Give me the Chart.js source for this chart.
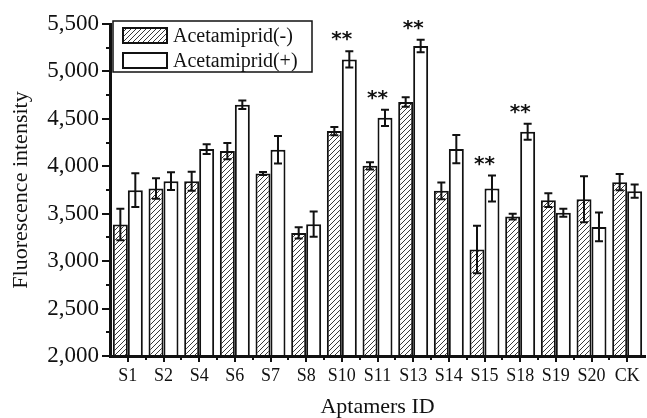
<!DOCTYPE html>
<html>
<head>
<meta charset="utf-8">
<script src="https://cdn.jsdelivr.net/npm/chart.js@4.4.0/dist/chart.umd.min.js"></script>
<style>
  body { margin: 0; background: #fff; }
  #chart { display: block; }
</style>
</head>
<body>
<canvas id="chart" width="647" height="418"></canvas>
<script>
// Dados
const categorias = ['S1', 'S2', 'S4', 'S6', 'S7', 'S8', 'S10', 'S11', 'S13', 'S14', 'S15', 'S18', 'S19', 'S20', 'CK'];
const semAcetamiprid = [3386, 3766, 3843, 4160, 3924, 3298, 4371, 4005, 4677, 3741, 3123, 3470, 3643, 3653, 3833];
const semAcetamipridErro = [167, 107, 100, 85, 15, 58, 44, 38, 50, 88, 250, 30, 72, 243, 85];
const comAcetamiprid = [3748, 3843, 4181, 4649, 4174, 3390, 5127, 4511, 5268, 4181, 3766, 4364, 3511, 3361, 3738];
const comAcetamipridErro = [178, 93, 52, 45, 145, 134, 85, 86, 65, 148, 136, 85, 42, 151, 69];
const significancia = ['', '', '', '', '', '', '**', '**', '**', '', '**', '**', '', '', ''];
const rotulosSeries = ['Acetamiprid(-)', 'Acetamiprid(+)'];

const fonteSerif = '"Liberation Serif", "Times New Roman", serif';

// Padrão hachurado para as barras (-)
function criarHachura() {
    const c = document.createElement('canvas');
    c.width = 5;
    c.height = 5;
    const ctx = c.getContext('2d');
    ctx.fillStyle = '#fff';
    ctx.fillRect(0, 0, 5, 5);
    ctx.strokeStyle = '#222';
    ctx.lineWidth = 0.9;
    ctx.beginPath();
    ctx.moveTo(-1, 6);
    ctx.lineTo(6, -1);
    ctx.moveTo(-1, 1);
    ctx.lineTo(1, -1);
    ctx.moveTo(4, 6);
    ctx.lineTo(6, 4);
    ctx.stroke();
    return ctx.createPattern(c, 'repeat');
}
const hachura = criarHachura();

// Barras de erro, marcas menores, asteriscos e legenda
const pluginExtras = {
    id: 'extras',
    afterDatasetsDraw(chart) {
        const ctx = chart.ctx;
        const yScale = chart.scales.y;
        const erros = [semAcetamipridErro, comAcetamipridErro];
        ctx.save();
        ctx.strokeStyle = '#111';
        ctx.lineWidth = 2;
        chart.data.datasets.forEach((ds, i) => {
            const meta = chart.getDatasetMeta(i);
            meta.data.forEach((bar, j) => {
                const v = ds.data[j];
                const e = erros[i][j];
                const yTop = yScale.getPixelForValue(v + e);
                const yBot = yScale.getPixelForValue(v - e);
                ctx.beginPath();
                ctx.moveTo(bar.x, yTop);
                ctx.lineTo(bar.x, yBot);
                ctx.moveTo(bar.x - 4, yTop);
                ctx.lineTo(bar.x + 4, yTop);
                ctx.moveTo(bar.x - 4, yBot);
                ctx.lineTo(bar.x + 4, yBot);
                ctx.stroke();
            });
        });
        ctx.restore();
    },
    afterDraw(chart) {
        const ctx = chart.ctx;
        const area = chart.chartArea;
        const xScale = chart.scales.x;
        const yScale = chart.scales.y;
        ctx.save();
        ctx.strokeStyle = '#111';
        ctx.lineWidth = 2;

        // marcas menores do eixo y
        ctx.beginPath();
        for (let v = 2250; v < 5500; v += 500) {
            const y = Math.round(yScale.getPixelForValue(v));
            ctx.moveTo(area.left - 4, y);
            ctx.lineTo(area.left, y);
        }
        // marcas menores do eixo x (entre categorias)
        const passo = (area.right - area.left) / categorias.length;
        for (let i = 1; i < categorias.length; i++) {
            const x = Math.round(area.left + i * passo);
            ctx.moveTo(x, area.bottom);
            ctx.lineTo(x, area.bottom + 4);
        }
        ctx.stroke();

        // asteriscos de significância
        ctx.fillStyle = '#111';
        ctx.font = 'bold 20px "DejaVu Sans", sans-serif';
        ctx.textAlign = 'center';
        ctx.textBaseline = 'alphabetic';
        significancia.forEach((s, j) => {
            if (!s) return;
            const topo = yScale.getPixelForValue(comAcetamiprid[j] + comAcetamipridErro[j]);
            const yc = topo - 17;
            ctx.fillText(s, xScale.getPixelForValue(j), yc + 11);
        });

        // legenda
        const lx = 113, ly = 21, lw = 199, lh = 51;
        ctx.lineWidth = 1.5;
        ctx.fillStyle = '#fff';
        ctx.fillRect(lx, ly, lw, lh);
        ctx.strokeRect(lx, ly, lw, lh);
        const fundos = [hachura, '#fff'];
        ctx.font = '20px ' + fonteSerif;
        ctx.textAlign = 'left';
        ctx.textBaseline = 'middle';
        rotulosSeries.forEach((rotulo, i) => {
            const sy = 28 + i * 25;
            ctx.fillStyle = fundos[i];
            ctx.fillRect(123, sy, 44, 15);
            ctx.lineWidth = 2;
            ctx.strokeRect(123, sy, 44, 15);
            ctx.fillStyle = '#111';
            ctx.fillText(rotulo, 173, sy + 9);
        });
        ctx.restore();
    }
};

new Chart(document.getElementById('chart'), {
    type: 'bar',
    data: {
        labels: categorias,
        datasets: [
            {
                label: rotulosSeries[0],
                data: semAcetamiprid,
                base: 2000,
                backgroundColor: hachura,
                borderColor: '#111',
                borderWidth: 2,
                barPercentage: 1,
                categoryPercentage: 0.84
            },
            {
                label: rotulosSeries[1],
                data: comAcetamiprid,
                base: 2000,
                backgroundColor: '#fff',
                borderColor: '#111',
                borderWidth: 2,
                barPercentage: 1,
                categoryPercentage: 0.84
            }
        ]
    },
    options: {
        responsive: false,
        devicePixelRatio: 1,
        animation: false,
        layout: {
            padding: { top: 24, right: 2, left: 0, bottom: 0 }
        },
        plugins: {
            legend: { display: false },
            tooltip: { enabled: false }
        },
        scales: {
            x: {
                afterFit: function(scale) { scale.height = 62; },
                grid: {
                    display: true,
                    offset: false,
                    drawOnChartArea: false,
                    drawTicks: true,
                    tickLength: 6,
                    lineWidth: 2,
                    color: '#111'
                },
                border: { display: true, color: '#111', width: 3 },
                ticks: {
                    color: '#111',
                    padding: 3,
                    maxRotation: 0,
                    autoSkip: false,
                    font: { family: fonteSerif, size: 18 }
                },
                title: {
                    display: true,
                    text: 'Aptamers ID',
                    color: '#111',
                    padding: 0,
                    font: { family: fonteSerif, size: 22, lineHeight: 1 }
                }
            },
            y: {
                min: 2000,
                max: 5500,
                afterFit: function(scale) { scale.width = 110; },
                grid: {
                    display: true,
                    drawOnChartArea: false,
                    drawTicks: true,
                    tickLength: 8,
                    lineWidth: 2,
                    color: '#111'
                },
                border: { display: true, color: '#111', width: 3 },
                ticks: {
                    stepSize: 500,
                    color: '#111',
                    padding: 3,
                    font: { family: fonteSerif, size: 23 },
                    callback: function(value) {
                        return value.toLocaleString('en-US');
                    }
                },
                title: {
                    display: true,
                    text: 'Fluorescence intensity',
                    color: '#111',
                    padding: { top: 10, bottom: 0 },
                    font: { family: fonteSerif, size: 22, lineHeight: 1 }
                }
            }
        }
    },
    plugins: [pluginExtras]
});
</script>
</body>
</html>
